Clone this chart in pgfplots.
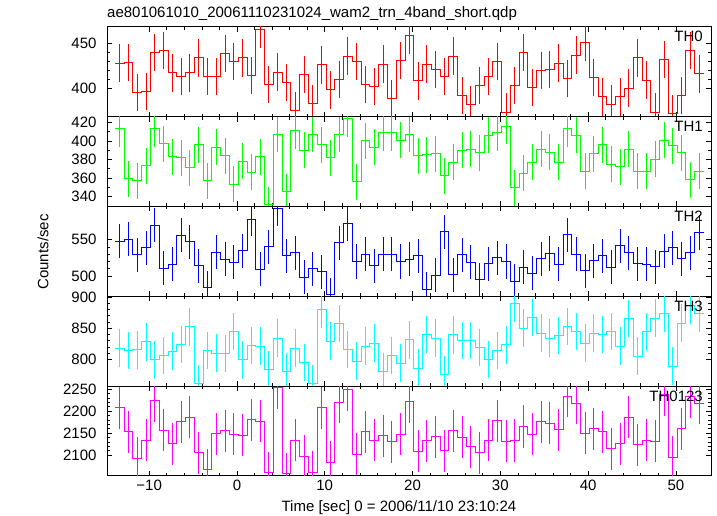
\documentclass[border=0pt]{standalone}
\usepackage{fontspec}
\setmainfont{Liberation Sans}
\usepackage{pgfplots}
\usepackage{pgfplotstable}
\pgfplotsset{compat=1.18}
\definecolor{qred}{RGB}{255,0,0}
\definecolor{qgreen}{RGB}{0,255,0}
\definecolor{qblue}{RGB}{0,0,255}
\definecolor{qcyan}{RGB}{0,255,255}
\definecolor{qmagenta}{RGB}{255,0,255}

\pgfplotstableread{
x th0 th1 th2 th3 thall
-13.35 428 413 548 818 2208
-12.35 429 359 551 814 2153
-11.35 395 357 529 815 2093
-10.35 396 373 539 828 2134
-9.35 440 413 570 799 2224
-8.35 442 397 511 806 2156
-7.35 417 383 516 813 2125
-6.35 413 382 556 824 2176
-5.35 417 371 547 852 2186
-4.35 434 396 514 761 2105
-3.35 413 357 484 814 2066
-2.35 413 393 533 810 2148
-1.35 439 384 523 809 2155
-0.35 430 353 519 845 2147
0.65 434 378 535 799 2145
1.65 414 366 578 822 2180
2.65 466 383 509 821 2177
3.65 404 331 540 784 2059
4.65 418 407 593 834 2253
5.65 406 345 528 780 2057
6.65 375 411 532 818 2134
7.65 415 390 498 795 2097
8.65 383 407 510 761 2061
9.65 426 396 506 880 2208
10.65 398 382 474 829 2083
11.65 410 407 546 857 2220
12.65 436 424 572 816 2249
13.65 430 356 520 797 2102
14.65 404 400 530 821 2153
15.65 402 393 514 826 2134
16.65 427 409 530 780 2144
17.65 388 409 530 806 2130
18.65 431 401 520 794 2147
19.65 459 407 523 831 2221
20.65 408 384 528 786 2108
21.65 427 385 482 840 2132
22.65 421 386 501 834 2141
23.65 413 362 561 775 2110
24.65 436 377 502 839 2155
25.65 392 390 529 830 2140
26.65 381 391 519 830 2119
27.65 403 387 495 819 2105
28.65 413 406 517 800 2134
29.65 430 409 525 814 2178
30.65 373 416 520 823 2131
31.65 403 349 493 889 2133
32.65 440 365 512 850 2165
33.65 401 377 504 867 2147
34.65 420 391 524 842 2176
35.65 421 388 531 834 2172
36.65 428 377 516 838 2157
37.65 411 413 557 853 2234
38.65 437 406 530 845 2218
39.65 451 367 507 826 2150
40.65 412 386 521 842 2160
41.65 390 396 528 840 2153
42.65 382 375 512 845 2114
43.65 390 372 542 821 2125
44.65 400 391 532 865 2186
45.65 434 367 517 805 2123
46.65 409 367 516 844 2134
47.65 373 380 513 866 2131
48.65 432 401 534 873 2237
49.65 371 395 539 789 2095
50.65 392 387 524 858 2160
51.65 442 358 532 886 2233
52.65 416 367 560 873 2218
53.65 416 367 560 873 2218
}\lc

\pgfplotsset{
  panel/.style={
    scale only axis, width=604pt, height=89.86pt, anchor=south west,
    xmin=-14.8, xmax=54, xtick={-10,0,...,50}, minor x tick num=4,
    tick pos=both, tick align=inside, xticklabels={},
    major tick length=5pt, minor tick length=3pt,
    tick style={black, line width=0.6pt},
    axis line style={line width=1pt},
    tick label style={font=\fontsize{15}{18}\selectfont},
    /pgf/number format/assume math mode=true,
    /pgf/number format/1000 sep={},
    yticklabel style={xshift=-7pt},
  },
  stepline/.style={const plot mark left, mark=none, line width=1pt, draw=#1},
  errs/.style 2 args={draw=none, mark=none, restrict x to domain=-14:53,
    error bars/.cd, y dir=both, y fixed=#2, error mark=none,
    error bar style={draw=#1, line width=1pt}},
}
\tikzset{lab/.style={anchor=north east, inner sep=0pt, font=\fontsize{15}{18}\selectfont, xshift=-8pt, yshift=-4.5pt}}

\begin{document}
\begin{tikzpicture}
\path[use as bounding box] (0pt,0pt) rectangle (717pt,516pt);

% TH0
\begin{axis}[panel, at={(107pt,399.44pt)}, ymin=368, ymax=469, ytick={400,450}, minor y tick num=4]
\addplot[stepline=qred] table[x expr=\thisrow{x}-0.5, y=th0] {\lc};
\addplot[errs={qred}{21}] table[x=x, y=th0] {\lc};
\node[lab] at (rel axis cs:1,1) {TH0};
\end{axis}

% TH1
\begin{axis}[panel, at={(107pt,309.58pt)}, ymin=329, ymax=426.5, ytick={340,360,...,420}, minor y tick num=1]
\addplot[stepline=qgreen] table[x expr=\thisrow{x}-0.5, y=th1] {\lc};
\addplot[errs={qgreen}{19.5}] table[x=x, y=th1] {\lc};
\node[lab] at (rel axis cs:1,1) {TH1};
\end{axis}

% TH2
\begin{axis}[panel, at={(107pt,219.72pt)}, ymin=472, ymax=596, ytick={500,550}, minor y tick num=4]
\addplot[stepline=qblue] table[x expr=\thisrow{x}-0.5, y=th2] {\lc};
\addplot[errs={qblue}{23.5}] table[x=x, y=th2] {\lc};
\node[lab] at (rel axis cs:1,1) {TH2};
\end{axis}

% TH3
\begin{axis}[panel, at={(107pt,129.86pt)}, ymin=757, ymax=901, ytick={800,850,900}, minor y tick num=4]
\addplot[stepline=qcyan] table[x expr=\thisrow{x}-0.5, y=th3] {\lc};
\addplot[errs={qcyan}{30}] table[x=x, y=th3] {\lc};
\node[lab] at (rel axis cs:1,1) {TH3};
\end{axis}

% TH0123
\begin{axis}[panel, at={(107pt,40pt)}, ymin=2052, ymax=2257, ytick={2100,2150,2200,2250}, minor y tick num=4,
  xticklabels={−10,0,10,20,30,40,50}]
\addplot[stepline=qmagenta] table[x expr=\thisrow{x}-0.5, y=thall] {\lc};
\addplot[errs={qmagenta}{48}] table[x=x, y=thall] {\lc};
\node[lab] at (rel axis cs:1,1) {TH0123};
\end{axis}

\node[rotate=90, font=\fontsize{15}{18}\selectfont] at (43pt,264pt) {Counts/sec};
\node[anchor=base west, inner sep=0pt, font=\fontsize{15}{18}\selectfont] at (107pt,498pt) {ae801061010\_20061110231024\_wam2\_trn\_4band\_short.qdp};
\node[anchor=base, inner sep=0pt, font=\fontsize{15}{18}\selectfont] at (399pt,4.5pt) {Time [sec] 0 = 2006/11/10 23:10:24};
\end{tikzpicture}
\end{document}
